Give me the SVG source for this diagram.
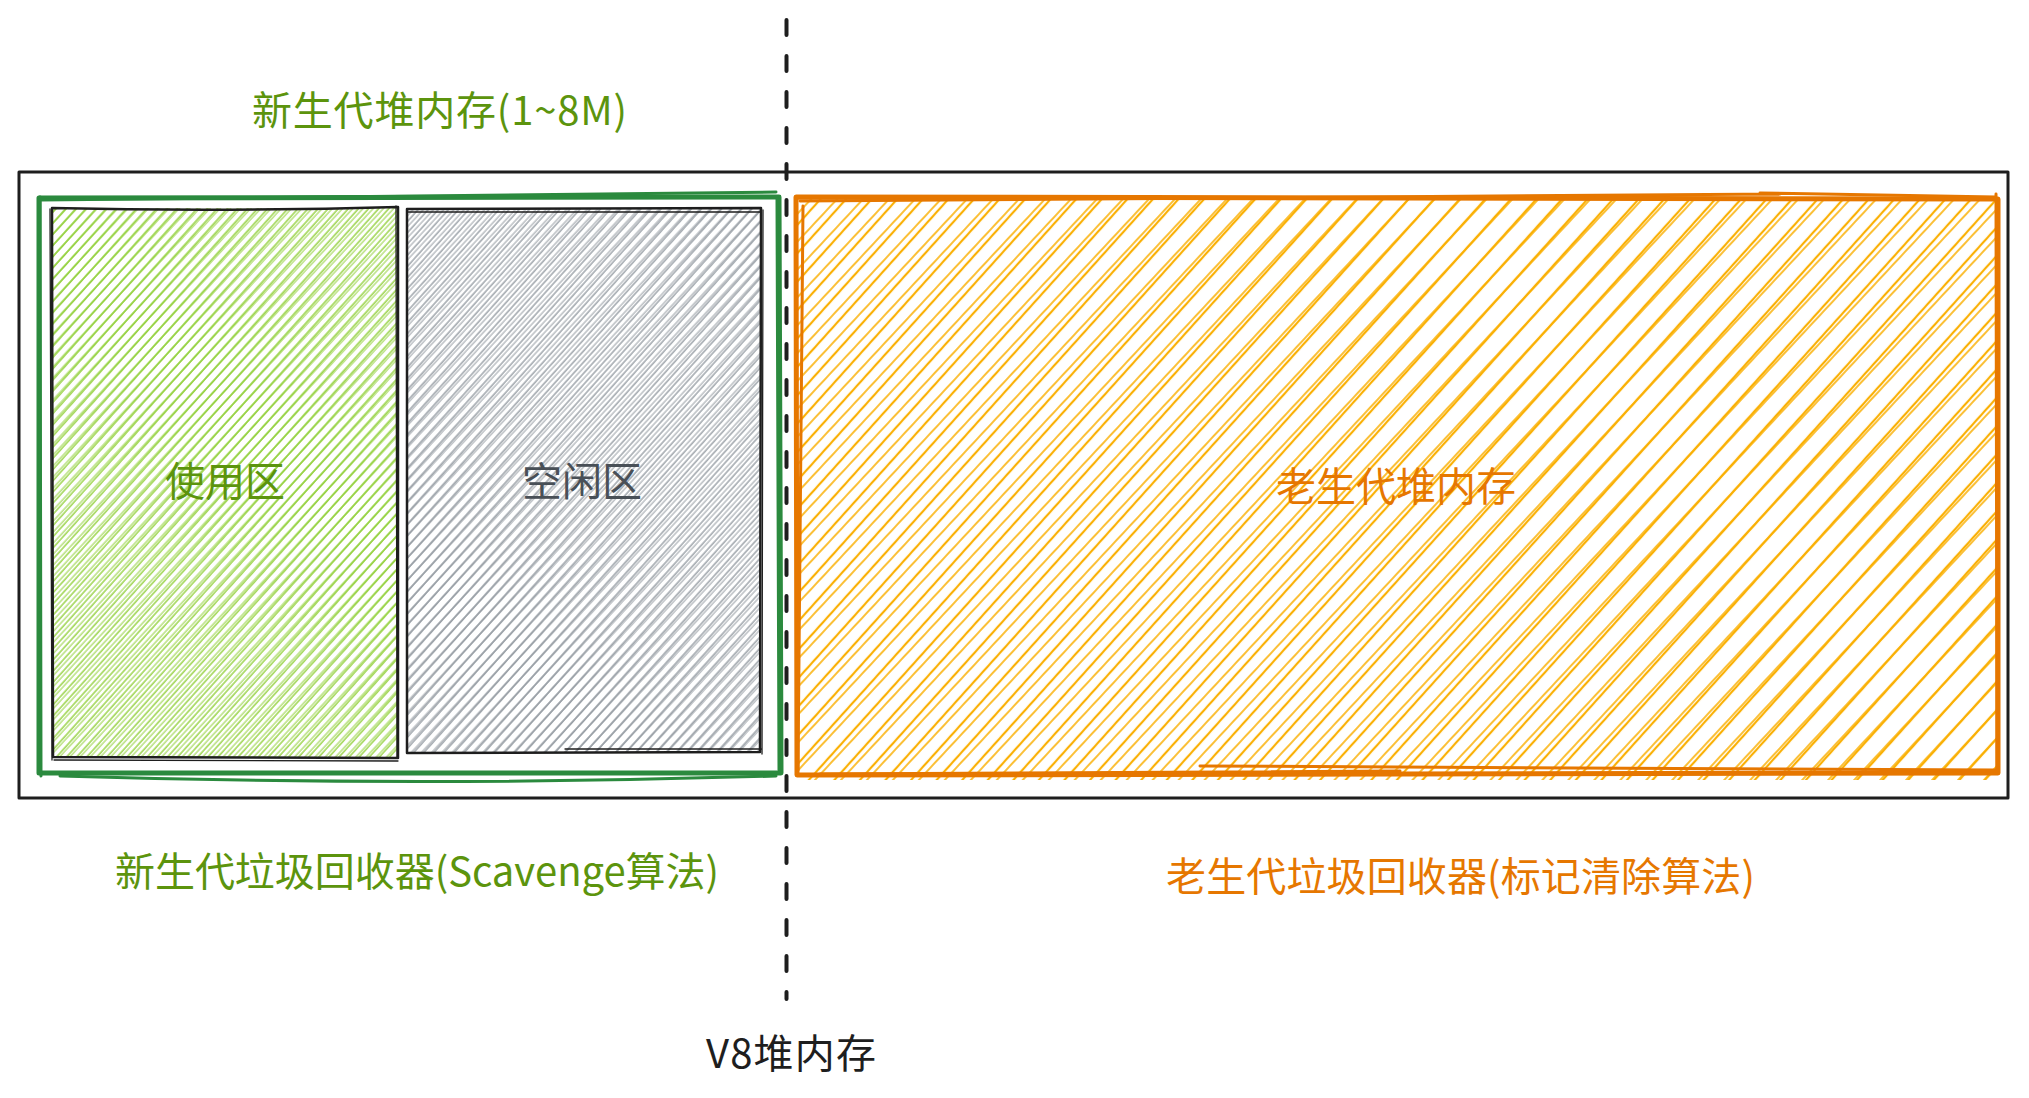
<svg xmlns="http://www.w3.org/2000/svg" width="2029" height="1098" viewBox="0 0 2029 1098">
<style>
.lbl{font-family:"Noto Sans CJK SC","Noto Sans",sans-serif;font-size:40px}
.green{fill:#5c940d}
.orange{fill:#e67700}
.gray{fill:#495057}
.black{fill:#1e1e1e}
.sk{fill:none;stroke-linecap:round;stroke-linejoin:round}
</style>
<defs>
<pattern id="hG1" patternUnits="userSpaceOnUse" width="7.5" height="40" patternTransform="rotate(42)">
<line x1="1" y1="-2" x2="1" y2="42" stroke="#82c91e" stroke-width="1.2"/>
</pattern>
<pattern id="hG2" patternUnits="userSpaceOnUse" width="7.5" height="40" patternTransform="rotate(42.8) translate(2 0)">
<line x1="1" y1="-2" x2="1" y2="42" stroke="#82c91e" stroke-width="0.9"/>
</pattern>
<pattern id="hY1" patternUnits="userSpaceOnUse" width="7.5" height="40" patternTransform="rotate(42)">
<line x1="1" y1="-2" x2="1" y2="42" stroke="#868e96" stroke-width="1.2"/>
</pattern>
<pattern id="hY2" patternUnits="userSpaceOnUse" width="7.5" height="40" patternTransform="rotate(42.8) translate(2 0)">
<line x1="1" y1="-2" x2="1" y2="42" stroke="#868e96" stroke-width="0.9"/>
</pattern>
<pattern id="hO1" patternUnits="userSpaceOnUse" width="19" height="60" patternTransform="rotate(42)">
<line x1="2" y1="-2" x2="2" y2="62" stroke="#fab005" stroke-width="2.2"/>
</pattern>
<pattern id="hO2" patternUnits="userSpaceOnUse" width="19" height="60" patternTransform="rotate(43) translate(5 0)">
<line x1="2" y1="-2" x2="2" y2="62" stroke="#fab005" stroke-width="1.6"/>
</pattern>
</defs>
<rect width="2029" height="1098" fill="#ffffff"/>

<g id="v8-heap">
<rect class="sk" x="19" y="172" width="1989" height="626" stroke="#1e1e1e" stroke-width="3"/>
</g>

<g id="new-gen">
<path class="sk" d="M39 198 L779 197 L781 773 L39 773 Z" stroke="#2b8a3e" stroke-width="5"/>
<path class="sk" d="M41 200 L776 192 M777 199 L779 770 M60 776 Q420 787 776 776 M40 197 L41 776" stroke="#2b8a3e" stroke-width="3"/>
</g>

<g id="used-area">
<rect x="52" y="208" width="346" height="550" fill="url(#hG1)"/>
<rect x="52" y="208" width="346" height="550" fill="url(#hG2)"/>
<path class="sk" d="M52 208 Q220 212 398 207 L398 758 L53 757 Z" stroke="#1e1e1e" stroke-width="2.5"/>
<path class="sk" d="M50 209 L52 760 M54 760 L398 761 M396 206 L397 757" stroke="#1e1e1e" stroke-width="1.3"/>
<text class="lbl green" x="225" y="496" text-anchor="middle">使用区</text>
</g>

<g id="free-area">
<rect x="407" y="208" width="354" height="545" fill="url(#hY1)"/>
<rect x="407" y="208" width="354" height="545" fill="url(#hY2)"/>
<path class="sk" d="M407 209 L761 208 L760 752 L407 753 Z" stroke="#1e1e1e" stroke-width="2.5"/>
<path class="sk" d="M408 212 L760 212 M763 210 L762 754 M565 749 L761 749" stroke="#1e1e1e" stroke-width="1.3"/>
<text class="lbl gray" x="582" y="496" text-anchor="middle">空闲区</text>
</g>

<g id="old-gen">
<rect x="796" y="197" width="1202" height="583" fill="url(#hO1)"/>
<rect x="796" y="197" width="1202" height="583" fill="url(#hO2)"/>
<path class="sk" d="M796 197 L1998 199 L1998 773 L797 775 Z" stroke="#e67700" stroke-width="5"/>
<path class="sk" d="M800 201 L1780 194 M1760 193 L1996 197 M803 206 L798 770 M1996 194 L1997 771 M1200 766 L1995 770 M820 774 L1400 771" stroke="#e67700" stroke-width="3"/>
<text class="lbl orange" x="1396" y="501" text-anchor="middle">老生代堆内存</text>
</g>

<g id="divider">
<line x1="786.5" y1="20" x2="786.5" y2="999" stroke="#1e1e1e" stroke-width="4" stroke-dasharray="15 21" stroke-linecap="round"/>
</g>

<g id="labels">
<text class="lbl green" x="252" y="125" textLength="375" lengthAdjust="spacing">新生代堆内存(1~8M)</text>
<text class="lbl green" x="115" y="886" textLength="604" lengthAdjust="spacing">新生代垃圾回收器(Scavenge算法)</text>
<text class="lbl orange" x="1166" y="891" textLength="589" lengthAdjust="spacing">老生代垃圾回收器(标记清除算法)</text>
<text class="lbl black" x="706" y="1068" textLength="170" lengthAdjust="spacing">V8堆内存</text>
</g>
</svg>
